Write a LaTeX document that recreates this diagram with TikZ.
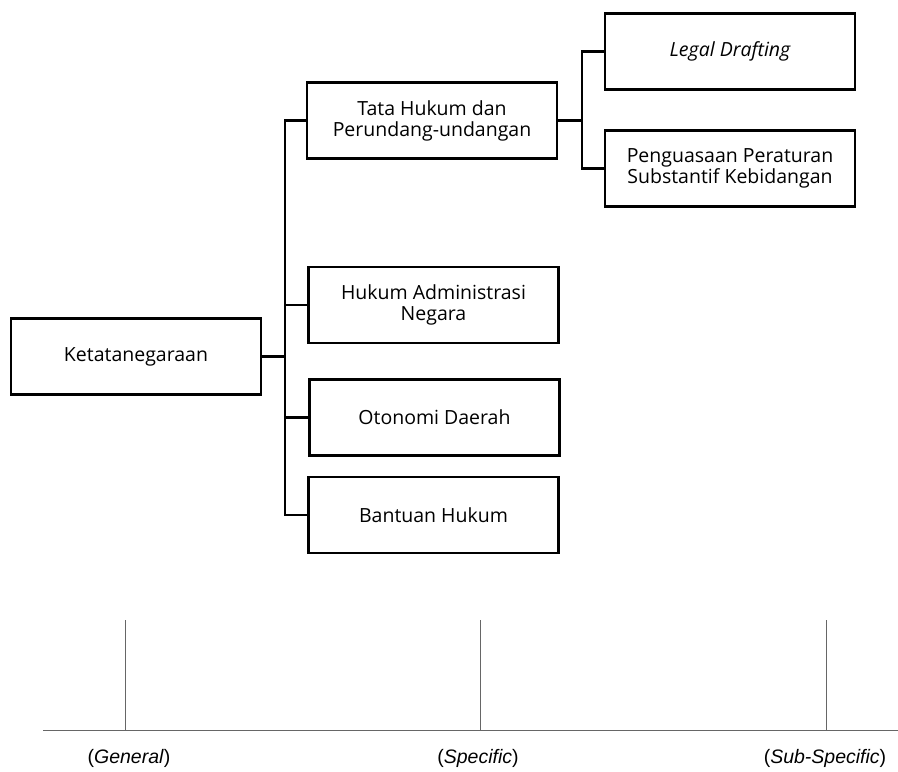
\documentclass[tikz,border=0pt]{standalone}
\usepackage{fontspec}
\setmainfont{Open Sans}
\newfontfamily\axisfont{Liberation Sans}
\begin{document}
\begin{tikzpicture}[x=1pt,y=-1pt,
  box/.style={draw=black,line width=2.4pt,minimum width=250pt,minimum height=76pt,
    inner sep=0pt,align=center,font=\fontsize{19.5}{21}\selectfont},
  link/.style={draw=black,line width=2.4pt},
  axis/.style={draw=black!60,line width=1pt},
  axislabel/.style={font=\axisfont\fontsize{19.5}{22}\selectfont}]
\useasboundingbox (0,0) rectangle (898,772);

% main topic and its branches
\node[box] (ket)   at (136,356.5) {Ketatanegaraan};
\node[box] (tata)  at (432,120.5) {Tata Hukum dan\\Perundang-undangan};
\node[box] (han)   at (433.5,305) {Hukum Administrasi\\Negara};
\node[box] (oto)   at (434.5,417.5) {Otonomi Daerah};
\node[box] (ban)   at (433.5,515) {Bantuan Hukum};
\node[box] (legal) at (730,51.5) {\itshape Legal Drafting};
\node[box] (peng)  at (730,168.5) {Penguasaan Peraturan\\Substantif Kebidangan};

% tree connectors
\coordinate (j1) at (285,0);
\coordinate (j2) at (582,0);
\foreach \c in {tata,han,oto,ban}
  \draw[link] (ket.east) -- (ket.east -| j1) |- (\c.west);
\foreach \c in {legal,peng}
  \draw[link] (tata.east) -- (tata.east -| j2) |- (\c.west);

% level axis
\coordinate (a0) at (43,730);
\coordinate (a1) at (898,730);
\draw[axis] (a0) -- (a1);
\coordinate (t1) at (125,620);
\coordinate (t2) at (480,620);
\coordinate (t3) at (826,620);
\foreach \t in {t1,t2,t3}
  \draw[axis] (\t) -- (\t |- a0);
\node[axislabel] (g) at (129,758) {(\textit{General})};
\node[axislabel] (s) at (478,758) {(\textit{Specific})};
\node[axislabel] (ss) at (825,758) {(\textit{Sub-Specific})};
\end{tikzpicture}
\end{document}
